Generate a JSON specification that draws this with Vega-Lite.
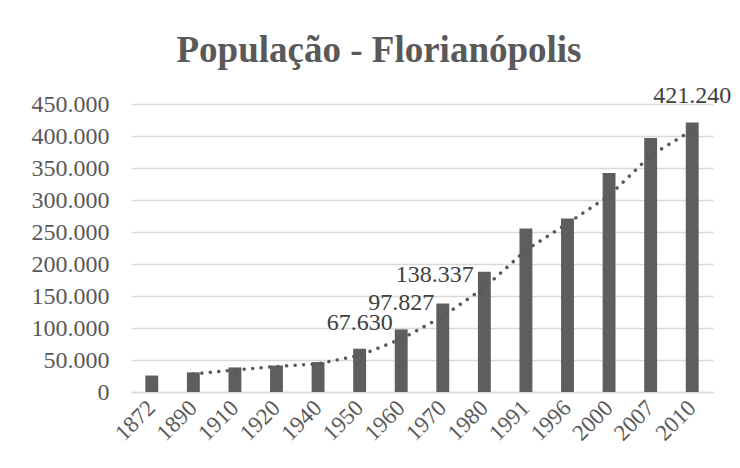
{
  "$schema": "https://vega.github.io/schema/vega-lite/v6.json",
  "autosize": {"type": "none"},
  "width": 582,
  "height": 288,
  "padding": {"left": 131, "top": 104, "right": 27, "bottom": 76},
  "background": "white",
  "config": {
    "locale": {"number": {"decimal": ",", "thousands": ".", "grouping": [3], "currency": ["R$", ""]}},
    "view": {"stroke": null},
    "font": "Liberation Serif",
    "axisY": {
      "title": null,
      "values": [0, 50000, 100000, 150000, 200000, 250000, 300000, 350000, 400000, 450000],
      "format": ",d",
      "labelFont": "Liberation Serif",
      "labelFontSize": 24,
      "labelColor": "#595959",
      "labelPadding": 22,
      "labelOverlap": false,
      "labelFlush": false,
      "ticks": false,
      "domain": false,
      "gridColor": "#d9d9d9",
      "gridWidth": 1.5
    }
  },
  "title": {
    "text": "População - Florianópolis",
    "font": "Liberation Serif",
    "fontWeight": "bold",
    "fontSize": 37,
    "color": "#595959",
    "anchor": "middle",
    "dx": -43,
    "offset": 14
  },
  "data": {
    "values": [
      {"year": "1872", "pop": 25709, "trend": null},
      {"year": "1890", "pop": 30687, "trend": 28198},
      {"year": "1910", "pop": 38400, "trend": 34544},
      {"year": "1920", "pop": 41338, "trend": 39869},
      {"year": "1940", "pop": 46771, "trend": 44055},
      {"year": "1950", "pop": 67630, "trend": 57201},
      {"year": "1960", "pop": 97827, "trend": 82729},
      {"year": "1970", "pop": 138337, "trend": 118082},
      {"year": "1980", "pop": 187880, "trend": 163109},
      {"year": "1991", "pop": 255390, "trend": 221635},
      {"year": "1996", "pop": 271281, "trend": 263336},
      {"year": "2000", "pop": 342315, "trend": 306798},
      {"year": "2007", "pop": 396723, "trend": 369519},
      {"year": "2010", "pop": 421240, "trend": 408982}
    ]
  },
  "encoding": {
    "x": {
      "field": "year",
      "type": "ordinal",
      "sort": null,
      "scale": {"paddingInner": 0.69, "paddingOuter": 0.345},
      "axis": {
        "title": null,
        "labelAngle": -45,
        "labelAlign": "right",
        "labelBaseline": "middle",
        "labelPadding": 12,
        "labelFont": "Liberation Serif",
        "labelFontSize": 23,
        "labelColor": "#595959",
        "labelOverlap": false,
        "ticks": false,
        "domainColor": "#d9d9d9",
        "domainWidth": 1.5
      }
    }
  },
  "layer": [
    {
      "mark": {"type": "bar", "color": "#5e5e5e"},
      "encoding": {
        "y": {
          "field": "pop",
          "type": "quantitative",
          "title": null,
          "scale": {"domain": [0, 450000], "nice": false}
        }
      }
    },
    {
      "mark": {"type": "line", "color": "#595959", "strokeWidth": 3.5, "strokeDash": [0.01, 8.5], "strokeCap": "round"},
      "transform": [{"filter": "datum.trend != null"}],
      "encoding": {
        "y": {"field": "trend", "type": "quantitative", "title": null}
      }
    },
    {
      "mark": {"type": "text", "font": "Liberation Serif", "fontSize": 24, "color": "#404040", "baseline": "alphabetic", "dy": -19},
      "transform": [{"filter": "datum.year == '1950' || datum.year == '1960' || datum.year == '2010'"}],
      "encoding": {
        "y": {"field": "pop", "type": "quantitative", "title": null},
        "text": {"field": "pop", "type": "quantitative", "format": ",d"}
      }
    },
    {
      "mark": {"type": "text", "font": "Liberation Serif", "fontSize": 24, "color": "#404040", "baseline": "alphabetic", "dy": -21, "dx": -8},
      "transform": [{"filter": "datum.year == '1970'"}],
      "encoding": {
        "y": {"field": "pop", "type": "quantitative", "title": null},
        "text": {"field": "pop", "type": "quantitative", "format": ",d"}
      }
    }
  ]
}
